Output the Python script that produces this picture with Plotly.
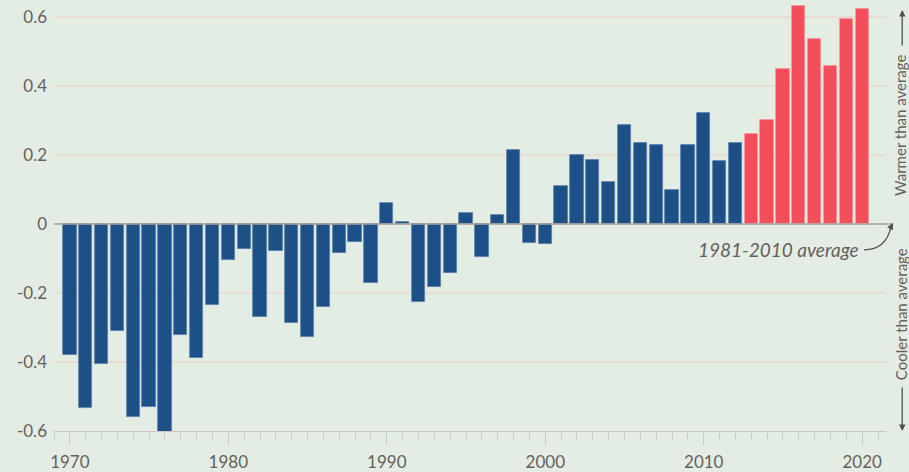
import plotly.graph_objects as go

years = list(range(1970, 2021))
anomaly = [
    -0.380, -0.534, -0.406, -0.309, -0.560, -0.529, -0.604, -0.322, -0.388, -0.235,
    -0.105, -0.072, -0.271, -0.077, -0.288, -0.328, -0.240, -0.084, -0.053, -0.171,
    0.061, 0.005, -0.227, -0.182, -0.143, 0.031, -0.097, 0.025, 0.213, -0.056,
    -0.059, 0.109, 0.200, 0.186, 0.121, 0.288, 0.236, 0.230, 0.098, 0.229,
    0.322, 0.183, 0.234, 0.260, 0.302, 0.450, 0.633, 0.536, 0.458, 0.594,
    0.624,
]
red_from_year = 2013
y_tickvals = [-0.6, -0.4, -0.2, 0, 0.2, 0.4, 0.6]
y_ticktext = ["-0.6", "-0.4", "-0.2", "0", "0.2", "0.4", "0.6"]
x_tickvals = [1970, 1980, 1990, 2000, 2010, 2020]

BLUE = "#1e5088"
RED = "#f44d5c"
BG = "#e4ede4"
TXT = "#66605c"

colors = [RED if y >= red_from_year else BLUE for y in years]
edge = ["#f8929b" if y >= red_from_year else "#5b80a8" for y in years]

fig = go.Figure()
fig.add_trace(go.Bar(
    x=years, y=anomaly, width=0.84,
    marker=dict(color=colors, line=dict(color=edge, width=0.8)),
    hoverinfo="x+y",
))

fig.update_layout(
    width=909, height=472,
    margin=dict(l=54, r=23, t=0, b=39),
    paper_bgcolor=BG, plot_bgcolor=BG,
    showlegend=False,
    font=dict(family="Lato, 'Open Sans', sans-serif", color=TXT, size=17),
    bargap=0,
)
fig.update_xaxes(
    range=[1969.0, 2021.5],
    tickvals=x_tickvals,
    ticks="outside", ticklen=13, tickwidth=1.2, tickcolor="#cfc7c0",
    minor=dict(dtick=1, tick0=1970, ticks="outside", ticklen=7, tickwidth=1.2, tickcolor="#cfc7c0", showgrid=False),
    showgrid=False, zeroline=False,
    showline=True, linecolor="#cfc7c0", linewidth=1.2,
    tickfont=dict(size=17, color=TXT),
    ticklabelstandoff=2,
)
fig.update_yaxes(
    range=[-0.6, 0.649],
    tickvals=y_tickvals, ticktext=y_ticktext,
    showgrid=True, gridcolor="#e7ddd3", gridwidth=1.5,
    zeroline=False, showline=False, ticks="",
    tickfont=dict(size=17, color=TXT),
    ticklabelstandoff=6,
)

# zero line (average)
fig.add_shape(type="line", xref="paper", yref="y", x0=0, x1=1.009, y0=0, y1=0,
              line=dict(color="#aaa39d", width=1.5), layer="above")

# side labels
fig.add_annotation(xref="paper", yref="paper", x=1.0175, y=0.709, xanchor="center", yanchor="middle",
                   text="Warmer than average", textangle=-90, showarrow=False, borderpad=0,
                   font=dict(size=15, color=TXT))
fig.add_annotation(xref="paper", yref="paper", x=1.0175, y=0.27, xanchor="center", yanchor="middle",
                   text="Cooler than average", textangle=-90, showarrow=False, borderpad=0,
                   font=dict(size=15, color=TXT))
fig.add_annotation(xref="paper", yref="paper", x=1.0195, y=0.977, ax=0, ay=37, text="",
                   showarrow=True, arrowhead=2, arrowsize=1, arrowwidth=1.3, arrowcolor="#55504c", standoff=0)
fig.add_annotation(xref="paper", yref="paper", x=1.0195, y=0.0, ax=0, ay=-45, text="",
                   showarrow=True, arrowhead=2, arrowsize=1, arrowwidth=1.3, arrowcolor="#55504c", standoff=0)

# average label with curved arrow
fig.add_annotation(xref="paper", yref="paper", x=0.970, y=0.420, xanchor="right", yanchor="middle",
                   text="<i>1981-2010 average</i>", showarrow=False, font=dict(size=19, color=TXT))
x0p = (864 - 54) / 832
y0p = (433 - 251) / 433
x1p = (891 - 54) / 832
y1p = (433 - 228) / 433
cxp = (886 - 54) / 832
cyp = (433 - 251) / 433
fig.add_shape(type="path", xref="paper", yref="paper",
              path=f"M {x0p} {y0p} Q {cxp} {cyp} {x1p} {y1p}",
              line=dict(color="#55504c", width=1.3))
fig.add_annotation(xref="paper", yref="paper", x=(893 - 54) / 832, y=(433 - 224) / 433,
                   ax=-4, ay=8, text="", showarrow=True, arrowhead=2, arrowsize=1,
                   arrowwidth=1.3, arrowcolor="#55504c", standoff=0)

fig.write_html("out.html", config={"displayModeBar": False},
               post_script="document.body.style.margin='0';document.body.style.overflow='hidden';")
